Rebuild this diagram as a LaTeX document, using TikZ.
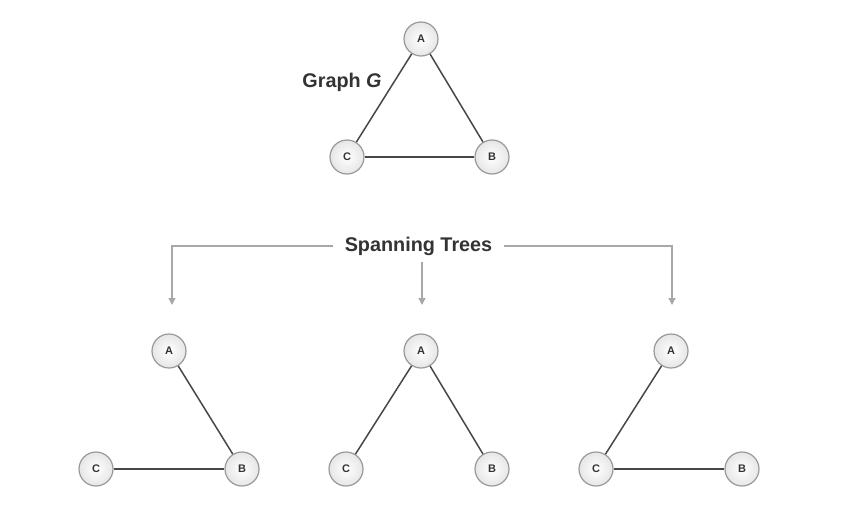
\documentclass[tikz,border=0pt]{standalone}
\usepackage{fontspec}
\setmainfont{Liberation Sans}
\usetikzlibrary{arrows.meta}
\definecolor{nodefill}{HTML}{E6E6E6}
\definecolor{nodeedge}{HTML}{999999}
\definecolor{edgecol}{HTML}{474747}
\definecolor{textcol}{HTML}{333333}
\definecolor{arrcol}{HTML}{A8A8A8}
\begin{document}
\begin{tikzpicture}[x=1pt,y=-1pt,
  vert/.style={circle,draw=nodeedge,line width=1.2pt,inner sep=0pt,minimum size=34pt,
    inner color=white,outer color=nodefill,text=textcol,font=\fontsize{11}{13}\selectfont\bfseries},
  gedge/.style={draw=edgecol,line width=1.5pt},
  garrow/.style={draw=arrcol,line width=1.2pt,-{Triangle[length=7pt,width=7pt]}},
  lbl/.style={text=textcol,font=\fontsize{19.8}{23}\selectfont\bfseries}]
\useasboundingbox (0,0) rectangle (864,511);
% top graph
\node[vert] (gA) at (421,39) {A};
\node[vert] (gC) at (347,157) {C};
\node[vert] (gB) at (492,157) {B};
\draw[gedge] (gA) -- (gC);
\draw[gedge] (gA) -- (gB);
\draw[gedge] (gC) -- (gB);
\node[lbl] (gl) at (342,82) {Graph \textit{G}};
% spanning trees label and arrows
\node[lbl,inner xsep=12pt] (st) at (418.5,246) {Spanning Trees};
\coordinate (tl) at (172,246);
\coordinate (tr) at (672,246);
\coordinate (e1) at (172,305);
\coordinate (e2) at (422,305);
\coordinate (e3) at (672,305);
\coordinate (sb) at (422,262);
\draw[garrow] (st.west) -- (tl) -- (e1);
\draw[garrow] (st.east) -- (tr) -- (e3);
\draw[garrow] (sb) -- (e2);
% tree 1
\node[vert] (aA) at (169,351) {A};
\node[vert] (aC) at (96,469) {C};
\node[vert] (aB) at (242,469) {B};
\draw[gedge] (aA) -- (aB);
\draw[gedge] (aC) -- (aB);
% tree 2
\node[vert] (bA) at (421,351) {A};
\node[vert] (bC) at (346,469) {C};
\node[vert] (bB) at (492,469) {B};
\draw[gedge] (bA) -- (bC);
\draw[gedge] (bA) -- (bB);
% tree 3
\node[vert] (cA) at (671,351) {A};
\node[vert] (cC) at (596,469) {C};
\node[vert] (cB) at (742,469) {B};
\draw[gedge] (cA) -- (cC);
\draw[gedge] (cC) -- (cB);
\end{tikzpicture}
\end{document}
